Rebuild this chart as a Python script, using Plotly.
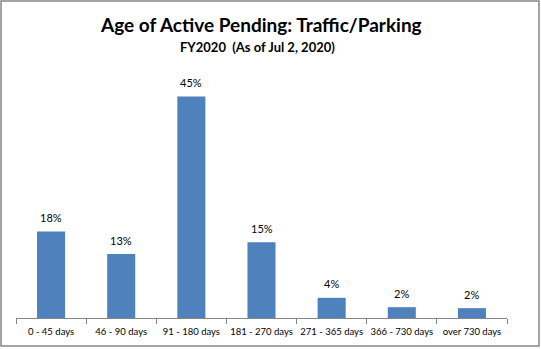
import plotly.graph_objects as go

categories = ["0 - 45 days", "46 - 90 days", "91 - 180 days", "181 - 270 days",
              "271 - 365 days", "366 - 730 days", "over 730 days"]
values = [17.6, 13.0, 45.0, 15.4, 4.1, 2.2, 2.0]
labels = ["18%", "13%", "45%", "15%", "4%", "2%", "2%"]

W, H = 541, 349
ml, mr, mt, mb = 16, 34, 72, 31
FONT = "Lato, Noto Sans, sans-serif"

fig = go.Figure(go.Bar(
    x=categories, y=values,
    marker=dict(color="#4f81bd", line=dict(width=0)),
    cliponaxis=False, width=0.4, hoverinfo="x+y",
))

pw = W - ml - mr
ph = H - mt - mb

label_annots = [
    dict(x=c, y=v, text=t, xref="x", yref="y", showarrow=False,
         yanchor="middle", yshift=14,
         font=dict(family=FONT, size=11, color="#000000"))
    for c, v, t in zip(categories, values, labels)
]

fig.update_layout(
    width=W, height=H,
    margin=dict(l=ml, r=mr, t=mt, b=mb, autoexpand=False),
    paper_bgcolor="white", plot_bgcolor="white",
    showlegend=False,
    xaxis=dict(type="category", showline=True, linecolor="#868686", linewidth=1,
               ticks="outside", tickson="boundaries", ticklen=5, tickcolor="#868686",
               tickangle=0, automargin=False, ticklabelstandoff=5,
               tickfont=dict(family=FONT, size=9.5, color="#000000"),
               showgrid=False),
    yaxis=dict(range=[0, 50], visible=False, showgrid=False, automargin=False),
    annotations=label_annots + [
        dict(text="<b>Age of Active Pending: Traffic/Parking</b>", xref="paper", yref="paper",
             x=(261 - ml) / pw, y=(H - mb - 25) / ph, xanchor="center", yanchor="middle",
             showarrow=False, font=dict(family=FONT, size=19, color="#000000")),
        dict(text="<b>FY2020  (As of Jul 2, 2020)</b>", xref="paper", yref="paper",
             x=(257 - ml) / pw, y=(H - mb - 47) / ph, xanchor="center", yanchor="middle",
             showarrow=False, font=dict(family=FONT, size=13, color="#000000")),
    ],
    shapes=[dict(type="rect", xref="paper", yref="paper",
                 x0=(1 - ml) / pw, x1=(539 - ml) / pw,
                 y0=(H - mb - 346) / ph, y1=(H - mb - 1) / ph,
                 line=dict(color="#868686", width=1.5), fillcolor="rgba(0,0,0,0)")],
)

fig.write_html("out.html")
